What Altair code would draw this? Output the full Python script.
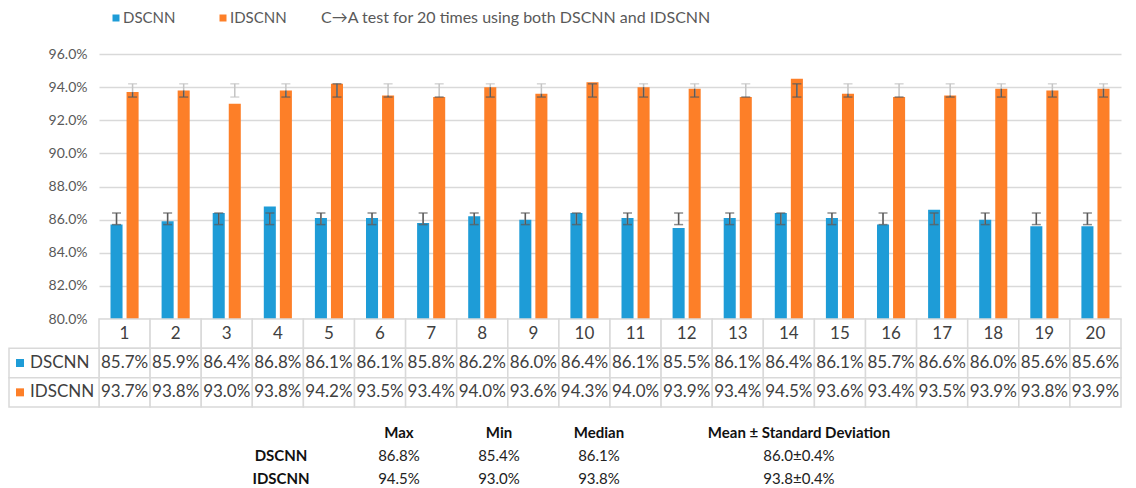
import altair as alt
import pandas as pd

runs = [str(i) for i in range(1, 21)]
series = ["DSCNN", "IDSCNN"]
colors = ["#1e9cd7", "#fd7f28"]
dscnn = [85.7, 85.9, 86.4, 86.8, 86.1, 86.1, 85.8, 86.2, 86.0, 86.4,
         86.1, 85.5, 86.1, 86.4, 86.1, 85.7, 86.6, 86.0, 85.6, 85.6]
idscnn = [93.7, 93.8, 93.0, 93.8, 94.2, 93.5, 93.4, 94.0, 93.6, 94.3,
          94.0, 93.9, 93.4, 94.5, 93.6, 93.4, 93.5, 93.9, 93.8, 93.9]
# error bar extent (low, high) per series
dscnn_err = [85.7, 86.4]
idscnn_err = [93.4, 94.2]
y_ticks = [80, 82, 84, 86, 88, 90, 92, 94, 96]

title_text = "C\u2192A test for 20 times using both DSCNN and IDSCNN"

stats_cols = ["Max", "Min", "Median", "Mean \u00b1 Standard Deviation"]
dscnn_stats = ["86.8%", "85.4%", "86.1%", "86.0\u00b10.4%"]
idscnn_stats = ["94.5%", "93.0%", "93.8%", "93.8\u00b10.4%"]

FONT = "Lato"
GRID = "#d9d9d9"
TXT = "#404040"
DARK = "#5a5a5a"
LIGHT = "#c4c4c4"

# ---------- data tables ----------
vals = {"DSCNN": dscnn, "IDSCNN": idscnn}
errs = {"DSCNN": dscnn_err, "IDSCNN": idscnn_err}
rows = []
for s in series:
    for r, v in zip(runs, vals[s]):
        lo, hi = errs[s]
        dark_hi = hi if s == "DSCNN" else min(hi, v)
        rows.append(dict(run=r, series=s, value=v, lo=lo, hi=hi,
                         dark_hi=dark_hi,
                         cap_hi_c=DARK if (s == "DSCNN" or hi <= v) else LIGHT,
                         cap_lo_c=DARK if (s == "DSCNN" or lo <= v) else LIGHT))
df = pd.DataFrame(rows)
df_dark = df[df["dark_hi"] > df["lo"]]

xenc = alt.X("run:N", sort=runs, axis=None,
             scale=alt.Scale(paddingInner=0.45, paddingOuter=0.225))
xoff = alt.XOffset("series:N", sort=series, scale=alt.Scale(paddingInner=0.25))
yscale = alt.Scale(domain=[80, 96], nice=False, zero=False)
yaxis = alt.Axis(
    values=y_ticks, labelExpr="format(datum.value, '.1f') + '%'",
    grid=True, gridColor=GRID, gridWidth=1.5, domain=False, ticks=False,
    labelPadding=12, labelFont=FONT, labelFontSize=14, labelColor="#595959",
    title=None)

bars = alt.Chart(df).mark_bar().encode(
    x=xenc, xOffset=xoff,
    y=alt.Y("value:Q", scale=yscale, axis=yaxis, title=None),
    y2=alt.datum(80),
    color=alt.Color("series:N", scale=alt.Scale(domain=series, range=colors), legend=None),
)

light_rule = alt.Chart(df).mark_rule(strokeWidth=1.5, color=LIGHT).encode(
    x=xenc, xOffset=xoff,
    y=alt.Y("lo:Q", scale=yscale, axis=yaxis, title=None), y2="hi:Q")
dark_rule = alt.Chart(df_dark).mark_rule(strokeWidth=1.5, color=DARK).encode(
    x=xenc, xOffset=xoff,
    y=alt.Y("lo:Q", scale=yscale, axis=yaxis, title=None), y2="dark_hi:Q")
cap_hi = alt.Chart(df).mark_tick(size=9, thickness=1.5).encode(
    x=xenc, xOffset=xoff,
    y=alt.Y("hi:Q", scale=yscale, axis=yaxis, title=None),
    color=alt.Color("cap_hi_c:N", scale=None))
cap_lo = alt.Chart(df).mark_tick(size=9, thickness=1.5).encode(
    x=xenc, xOffset=xoff,
    y=alt.Y("lo:Q", scale=yscale, axis=yaxis, title=None),
    color=alt.Color("cap_lo_c:N", scale=None))

# legend + title drawn above the plot
LEG_Y = -36
leg_layers = []
for i, (s, c) in enumerate(zip(series, colors)):
    ldf = pd.DataFrame({"series": [s]})
    leg_layers.append(alt.Chart(ldf).mark_square(size=49, color=c, opacity=1).encode(
        x=alt.value(17 + 107 * i), y=alt.value(LEG_Y)))
    leg_layers.append(alt.Chart(ldf).mark_text(
        align="left", baseline="middle", font=FONT, fontSize=15, color="#595959").encode(
        x=alt.value(24 + 107 * i), y=alt.value(LEG_Y), text="series:N"))
title_layer = alt.Chart(pd.DataFrame({"t": [title_text]})).mark_text(
    align="left", baseline="middle", font=FONT, fontSize=16, color="#595959").encode(
    x=alt.value(222), y=alt.value(LEG_Y), text="t:N")

bar_panel = alt.layer(bars, light_rule, dark_rule, cap_hi, cap_lo,
                      *leg_layers, title_layer).properties(width=1022, height=265)

# ---------- data table under the plot ----------
trow = ["hdr", "DSCNN", "IDSCNN"]
cells = []
for r in runs:
    cells.append(dict(run=r, row="hdr", label=r))
for s in series:
    for r, v in zip(runs, vals[s]):
        cells.append(dict(run=r, row=s, label=f"{v:.1f}%"))
cdf = pd.DataFrame(cells)
tx = alt.X("run:N", sort=runs, axis=None, scale=alt.Scale(paddingInner=0, paddingOuter=0))
ty = alt.Y("row:N", sort=trow, axis=None,
           scale=alt.Scale(domain=trow, paddingInner=0, paddingOuter=0))
cell_rect = alt.Chart(cdf).mark_rect(fill="white", stroke=GRID, strokeWidth=1.5).encode(x=tx, y=ty)
cell_text = alt.Chart(cdf).mark_text(font=FONT, fontSize=17, color=TXT).encode(
    x=tx, y=ty, text="label:N")
rdf = pd.DataFrame({"row": series, "series": series})
row_rect = alt.Chart(rdf).mark_rect(fill="white", stroke=GRID, strokeWidth=1.5).encode(
    x=alt.value(-90), x2=alt.value(0), y=ty)
row_sq = alt.Chart(rdf).mark_square(size=64, opacity=1).encode(
    x=alt.value(-79), y=ty,
    color=alt.Color("series:N", scale=alt.Scale(domain=series, range=colors), legend=None))
row_text = alt.Chart(rdf).mark_text(align="left", font=FONT, fontSize=17, color=TXT).encode(
    x=alt.value(-69), y=ty, text="row:N")
table_panel = alt.layer(cell_rect, cell_text, row_rect, row_sq, row_text).properties(
    width=1022, height=88)

# ---------- summary statistics ----------
scol_domain = ["label", "Max", "Min", "Median", "gap", stats_cols[3]]
srows = []
for c in stats_cols:
    srows.append(dict(col=c, row="hdr", text=c, kind="head"))
for s, st in zip(series, [dscnn_stats, idscnn_stats]):
    srows.append(dict(col="label", row=s, text=s, kind="label"))
    for c, t in zip(stats_cols, st):
        srows.append(dict(col=c, row=s, text=t, kind="value"))
sdf = pd.DataFrame(srows)
sx = alt.X("col:N", axis=None, sort=scol_domain,
           scale=alt.Scale(type="point", domain=scol_domain, range=[200, 700], padding=0))
sy = alt.Y("row:N", axis=None, sort=trow,
           scale=alt.Scale(type="point", domain=trow, range=[26, 72], padding=0))
s_head = alt.Chart(sdf[sdf["kind"] == "head"]).mark_text(
    font=FONT, fontSize=15, fontWeight="bold", color="#111111").encode(x=sx, y=sy, text="text:N")
s_label = alt.Chart(sdf[sdf["kind"] == "label"]).mark_text(
    font=FONT, fontSize=15, fontWeight="bold", color="#111111", dx=-18).encode(x=sx, y=sy, text="text:N")
s_norm = alt.Chart(sdf[sdf["kind"] == "value"]).mark_text(
    font=FONT, fontSize=15, color="#222222").encode(x=sx, y=sy, text="text:N")
stats_panel = alt.layer(s_head, s_label, s_norm).properties(width=1022, height=72)

chart = alt.vconcat(bar_panel, table_panel, stats_panel, spacing=0, bounds="flush").resolve_scale(
    x="independent", y="independent", color="independent", xOffset="independent"
).properties(padding={"left": 0, "top": 2, "right": 5, "bottom": 0}, background="white"
).configure_view(stroke=None)

chart.save("out.html", embed_options={"renderer": "svg", "actions": False})
